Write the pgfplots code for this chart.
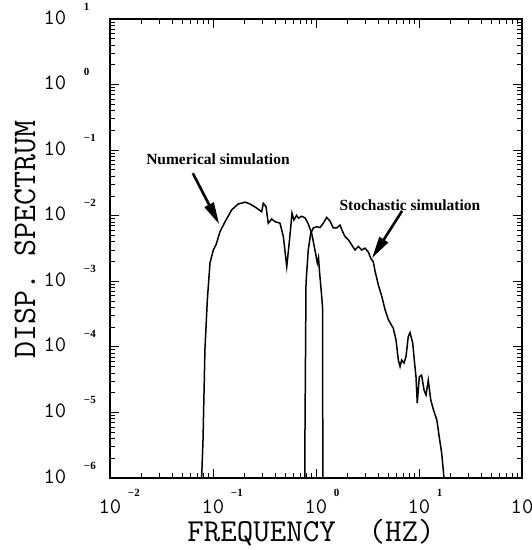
\documentclass[border=0pt]{standalone}
\usepackage{fontspec}
\setmainfont{Liberation Serif}
\usepackage{pgfplots}
\pgfplotsset{compat=1.18}
\usetikzlibrary{arrows.meta}
\newcommand{\tk}{\ttfamily\fontsize{22bp}{24bp}\selectfont}
\newcommand{\ex}{\rmfamily\bfseries\fontsize{11bp}{12bp}\selectfont}
\newcommand{\xl}[1]{\makebox[0pt][c]{\tk 10}\rlap{\hspace{18bp}\raisebox{17bp}{\ex #1}}}
\newcommand{\yl}[1]{\makebox[0pt][c]{\tk 10}\rlap{\hspace{29bp}\raisebox{14bp}{\ex #1}}}
\newcommand{\ann}{\rmfamily\bfseries\fontsize{15.5bp}{17bp}\selectfont}
\begin{document}
\begin{tikzpicture}
\begin{axis}[
  xmode=log, ymode=log,
  xmin=0.01, xmax=100, ymin=1e-6, ymax=10,
  scale only axis, width=412bp, height=459bp,
  xtick={0.01,0.1,1,10,100},
  xticklabels={\xl{−2},\xl{−1},\xl{0},\xl{1},\makebox[0pt][c]{\tk 10}},
  ytick={1e-6,1e-5,1e-4,1e-3,1e-2,1e-1,1,10},
  yticklabels={\yl{−6},\yl{−5},\yl{−4},\yl{−3},\yl{−2},\yl{−1},\yl{0},\yl{1}},
  minor xtick={0.02,0.03,0.04,0.05,0.06,0.07,0.08,0.09,0.2,0.3,0.4,0.5,0.6,0.7,0.8,0.9,2,3,4,5,6,7,8,9,20,30,40,50,60,70,80,90},
  minor ytick={2e-6,3e-6,4e-6,5e-6,6e-6,7e-6,8e-6,9e-6,2e-5,3e-5,4e-5,5e-5,6e-5,7e-5,8e-5,9e-5,2e-4,3e-4,4e-4,5e-4,6e-4,7e-4,8e-4,9e-4,2e-3,3e-3,4e-3,5e-3,6e-3,7e-3,8e-3,9e-3,0.02,0.03,0.04,0.05,0.06,0.07,0.08,0.09,0.2,0.3,0.4,0.5,0.6,0.7,0.8,0.9,2,3,4,5,6,7,8,9},
  xticklabel style={anchor=base, yshift=-35bp},
  yticklabel style={anchor=base, xshift=-55bp, yshift=-5bp},
  tick align=inside,
  major tick length=9bp, minor tick length=5bp,
  every tick/.style={black, line width=0.9bp},
  axis line style={line width=1.8bp},
  xlabel={FREQUENCY\ \ (HZ)},
  ylabel={DISP.\ SPECTRUM},
  xlabel style={at={(rel axis cs:0.488,-0.119)}, anchor=center, font=\ttfamily\fontsize{32bp}{34bp}\selectfont},
  ylabel style={at={(rel axis cs:-0.206,0.52)}, anchor=center, font=\ttfamily\fontsize{33bp}{35bp}\selectfont},
]
\addplot[black, line width=1.5bp] table {
0.0776 1e-6
0.0800 3.8e-6
0.0835 9.0e-5
0.0881 5.2e-4
0.0935 1.9e-3
0.1007 3.0e-3
0.107 3.6e-3
0.117 5.7e-3
0.131 8.1e-3
0.152 1.23e-2
0.176 1.51e-2
0.205 1.61e-2
0.229 1.51e-2
0.265 1.31e-2
0.297 1.15e-2
0.308 1.55e-2
0.327 1.38e-2
0.344 7.7e-3
0.372 8.9e-3
0.400 8.1e-3
0.447 7.7e-3
0.482 4.8e-3
0.520 1.67e-3
0.551 4.0e-3
0.585 1.09e-2
0.611 8.6e-3
0.647 1.01e-2
0.676 9.2e-3
0.726 9.8e-3
0.782 9.3e-3
0.841 7.5e-3
0.908 5.4e-3
0.977 3.0e-3
1.030 1.9e-3
1.058 2.3e-3
1.082 1.4e-3
1.136 5.9e-4
1.161 3.7e-4
1.164 1e-6
};
\addplot[black, line width=1.5bp] table {
0.780 1e-6
0.782 5.4e-6
0.800 9.4e-4
0.841 3.0e-3
0.889 5.4e-3
0.942 6.5e-3
1.016 6.8e-3
1.094 6.6e-3
1.178 7.7e-3
1.270 9.4e-3
1.368 8.3e-3
1.472 6.5e-3
1.589 6.5e-3
1.710 7.2e-3
1.816 5.7e-3
1.914 4.8e-3
2.06 4.3e-3
2.22 3.6e-3
2.39 3.0e-3
2.58 3.4e-3
2.78 3.0e-3
2.99 3.2e-3
3.22 2.8e-3
3.40 2.25e-3
3.60 1.98e-3
3.74 1.44e-3
4.03 8.8e-4
4.35 5.9e-4
4.68 3.7e-4
5.04 2.6e-4
5.62 1.93e-4
5.98 1.28e-4
6.30 6.3e-5
6.55 5.0e-5
6.79 6.3e-5
7.15 5.65e-5
7.48 7.1e-5
7.87 1.44e-4
8.18 1.65e-4
8.69 1.14e-4
9.00 6.3e-5
9.35 3.5e-5
9.62 1.39e-5
10.07 3.5e-5
10.6 3.7e-5
11.19 2.2e-5
11.7 1.85e-5
12.3 3.1e-5
13.0 1.56e-5
13.8 1.10e-5
14.9 7.7e-6
15.7 4.3e-6
16.6 2.4e-6
17.2 1.33e-6
17.5 1e-6
};
\node[font=\ann] at (rel axis cs:0.262,0.695) {Numerical simulation};
\node[font=\ann] at (rel axis cs:0.728,0.595) {Stochastic simulation};
\draw[line width=2.6bp, -{Triangle[length=22bp,width=10bp]}] (rel axis cs:0.201,0.664) -- (rel axis cs:0.265,0.553);
\draw[line width=2.6bp, -{Triangle[length=22bp,width=10bp]}] (rel axis cs:0.709,0.582) -- (rel axis cs:0.636,0.479);
\coordinate (sw) at (rel axis cs:0,0);
\end{axis}
\pgfresetboundingbox
\path[use as bounding box] (sw) ++(-110bp,-72bp) rectangle ++(532bp,550bp);
\end{tikzpicture}
\end{document}
